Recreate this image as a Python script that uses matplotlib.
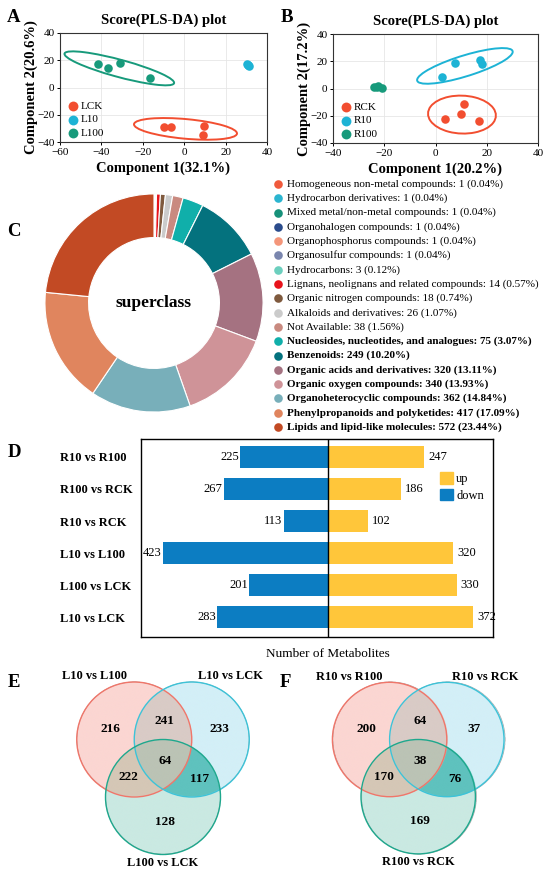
import numpy as np
import matplotlib
matplotlib.use('Agg')
import matplotlib.pyplot as plt
from matplotlib.patches import Ellipse, Circle, Patch

plt.rcParams['font.family'] = ['Liberation Serif', 'DejaVu Serif']

# ---- data ----
# A: PLS-DA scores, leaf
lck_x = [-9.7, -6.5, 9.8, 8.9]
lck_y = [-29.1, -29.1, -28.1, -35.2]
l10_x = [30.4, 31.2, 30.8, 31.0]
l10_y = [17.4, 15.8, 16.8, 16.2]
l100_x = [-41.5, -36.6, -30.8, -16.5]
l100_y = [17.4, 14.2, 17.8, 6.8]

# B: PLS-DA scores, root
rck_x = [3.6, 9.9, 11.0, 16.8]
rck_y = [-22.4, -19.0, -11.2, -24.0]
r10_x = [2.7, 7.5, 17.5, 18.2]
r10_y = [8.8, 18.5, 21.0, 18.0]
r100_x = [-24.0, -22.4, -20.8, -23.0]
r100_y = [0.8, 1.5, 0.3, 1.0]

# C: superclass counts
superclass = ['Homogeneous non-metal compounds', 'Hydrocarbon derivatives',
              'Mixed metal/non-metal compounds', 'Organohalogen compounds',
              'Organophosphorus compounds', 'Organosulfur compounds', 'Hydrocarbons',
              'Lignans, neolignans and related compounds', 'Organic nitrogen compounds',
              'Alkaloids and derivatives', 'Not Available',
              'Nucleosides, nucleotides, and analogues', 'Benzenoids',
              'Organic acids and derivatives', 'Organic oxygen compounds',
              'Organoheterocyclic compounds', 'Phenylpropanoids and polyketides',
              'Lipids and lipid-like molecules']
counts = [1, 1, 1, 1, 1, 1, 3, 14, 18, 26, 38, 75, 249, 320, 340, 362, 417, 572]
pcts = [0.04, 0.04, 0.04, 0.04, 0.04, 0.04, 0.12, 0.57, 0.74, 1.07, 1.56, 3.07,
        10.20, 13.11, 13.93, 14.84, 17.09, 23.44]
pie_colors = ['#F05A3C', '#2BB5D0', '#17917A', '#2B4C8C', '#F4967A', '#7A86AE',
              '#6CCFBE', '#E8141C', '#7F5A3E', '#CBCBCB', '#C98A80', '#10AFAA',
              '#04727E', '#A57281', '#CF9398', '#78AFBA', '#E0855E', '#C24A24']

# D: differential metabolites
comparisons = ['R10 vs R100', 'R100 vs RCK', 'R10 vs RCK',
               'L10 vs L100', 'L100 vs LCK', 'L10 vs LCK']
down = [225, 267, 113, 423, 201, 283]
up = [247, 186, 102, 320, 330, 372]

# E, F: venn region counts (A only, AB, B only, ABC, AC, BC, C only)
venn_e_sets = ['L10 vs L100', 'L10 vs LCK', 'L100 vs LCK']
venn_e_vals = [216, 241, 233, 64, 222, 117, 128]
venn_f_sets = ['R10 vs R100', 'R10 vs RCK', 'R100 vs RCK']
venn_f_vals = [200, 64, 37, 38, 170, 76, 169]

RED, CYAN, GREEN = '#F24E30', '#1DB3D5', '#179A7B'

W, H = 550, 876
fig = plt.figure(figsize=(W / 100, H / 100), dpi=100)


def px_axes(x0, y0, x1, y1):
    return fig.add_axes([x0 / W, 1 - y1 / H, (x1 - x0) / W, (y1 - y0) / H])


def conf_ellipse(ax, x, y, color, n_std=2.447):
    cov = np.cov(x, y)
    vals, vecs = np.linalg.eigh(cov)
    order = vals.argsort()[::-1]
    vals, vecs = vals[order], vecs[:, order]
    angle = np.degrees(np.arctan2(vecs[1, 0], vecs[0, 0]))
    w, h = 2 * n_std * np.sqrt(vals)
    ax.add_patch(Ellipse((np.mean(x), np.mean(y)), w, h, angle=angle,
                         fill=False, ec=color, lw=1.4, zorder=2))


def score_plot(ax, groups, xlim, xlabel, ylabel):
    for name, x, y, color, ell in groups:
        ax.scatter(x, y, s=38, color=color, label=name, zorder=3, lw=0)
        if ell:
            conf_ellipse(ax, x, y, color)
    ax.set_xlim(xlim)
    ax.set_ylim(-40, 40)
    ax.set_xticks(np.arange(xlim[0], xlim[1] + 1, 20))
    ax.set_yticks([-40, -20, 0, 20, 40])
    ax.grid(color='#E6E6E6', lw=0.6)
    ax.set_axisbelow(True)
    ax.tick_params(labelsize=8, length=2.5, width=0.7, pad=1.5)
    for s in ax.spines.values():
        s.set_linewidth(0.8)
        s.set_color('#333333')
    ax.set_title('Score(PLS-DA) plot', fontsize=10.5, fontweight='bold', pad=6.5)
    ax.set_xlabel(xlabel, fontsize=10.5, fontweight='bold')
    ax.set_ylabel(ylabel, fontsize=10.5, fontweight='bold')
    ax.xaxis.set_label_coords(0.5, -0.175)
    ax.yaxis.set_label_coords(-0.105, 0.5)
    ax.legend(loc='lower left', frameon=False, fontsize=8, handletextpad=0.0,
              labelspacing=0.3, borderaxespad=0.2, borderpad=0.2,
              markerscale=1.15, handlelength=1.5)


# ---- A ----
axA = px_axes(60, 33, 267, 142)
score_plot(axA, [('LCK', lck_x, lck_y, RED, True),
                 ('L10', l10_x, l10_y, CYAN, False),
                 ('L100', l100_x, l100_y, GREEN, True)],
           (-60, 40), 'Component 1(32.1%)', 'Component 2(20.6%)')

# ---- B ----
axB = px_axes(333, 34, 538, 143)
score_plot(axB, [('RCK', rck_x, rck_y, RED, True),
                 ('R10', r10_x, r10_y, CYAN, True),
                 ('R100', r100_x, r100_y, GREEN, False)],
           (-40, 40), 'Component 1(20.2%)', 'Component 2(17.2%)')

# ---- C donut ----
axC = px_axes(154 - 114.5, 303 - 114.5, 154 + 114.5, 303 + 114.5)
axC.pie(counts, colors=pie_colors, startangle=90, counterclock=False,
        wedgeprops=dict(width=0.4, edgecolor='white', linewidth=0.8))
axC.set_xlim(-1.05, 1.05)
axC.set_ylim(-1.05, 1.05)
axC.text(0, 0, 'superclass', ha='center', va='center', fontsize=12.5,
         fontweight='bold')

axL = px_axes(262, 175, 550, 437)
axL.set_xlim(262, 550)
axL.set_ylim(437, 175)
axL.axis('off')
for i, (name, n, p, c) in enumerate(zip(superclass, counts, pcts, pie_colors)):
    yy = 184 + i * 14.3
    axL.plot(278, yy, 'o', ms=6.2, color=c, mec='none')
    axL.text(287, yy, f'{name}: {n} ({p:.2f}%)', va='center', ha='left',
             fontsize=8, fontweight='bold' if i >= 11 else 'normal')

# ---- D bars ----
axD = px_axes(141, 439, 493, 637)
ypos = np.arange(len(comparisons))
axD.barh(ypos, [-v for v in down], height=0.68, color='#0C7DC2', label='down')
axD.barh(ypos, up, height=0.68, color='#FFC63A', label='up')
for yv, d, u in zip(ypos, down, up):
    axD.annotate(str(d), (-d, yv), xytext=(-1, 0), textcoords='offset points',
                 ha='right', va='center', fontsize=9)
    axD.annotate(str(u), (u, yv), xytext=(3, 0), textcoords='offset points',
                 ha='left', va='center', fontsize=9)
axD.axvline(0, color='black', lw=1)
axD.set_xlim(-479, 423)
axD.set_ylim(5.62, -0.56)
axD.set_xticks([])
axD.set_yticks(ypos)
axD.set_yticklabels(comparisons, fontsize=9, fontweight='bold', ha='left')
axD.tick_params(axis='y', length=0, pad=58)
for s in axD.spines.values():
    s.set_linewidth(1)
axD.set_xlabel('Number of Metabolites', fontsize=9.5)
axD.xaxis.set_label_coords(479 / 902, -0.055)
axD.legend(handles=[Patch(color='#FFC63A', label='up'),
                    Patch(color='#0C7DC2', label='down')],
           loc='upper left', bbox_to_anchor=(440 / W, 1 - 472 / H),
           bbox_transform=fig.transFigure, frameon=False, fontsize=9,
           handlelength=1.0, handleheight=1.05, handletextpad=0.3,
           labelspacing=0.3, borderpad=0, borderaxespad=0)

# ---- E, F venn ----
region_colors = {(1, 0, 0): '#FBD6D2', (0, 1, 0): '#D3EFF7', (0, 0, 1): '#CAE9E2',
                 (1, 1, 0): '#D9CBC6', (1, 0, 1): '#D5C7B6', (0, 1, 1): '#5FC2BE',
                 (1, 1, 1): '#BBC3B5'}
edge_colors = ['#F0766A', '#3DC3D8', '#1EA88D']
centers = [(-0.5, 0.0), (0.5, 0.0), (0.0, -1.0)]
val_pos = [(-0.91, 0.18), (0.03, 0.33), (0.98, 0.18), (0.03, -0.38),
           (-0.60, -0.66), (0.64, -0.69), (0.03, -1.43)]
lab_pos = [(-1.20, 1.10), (1.17, 1.10), (0.0, -2.14)]


def venn(box, origin, unit, sets, vals):
    x0, y0, x1, y1 = box
    ax = px_axes(x0, y0, x1, y1)
    xl = ((x0 - origin[0]) / unit, (x1 - origin[0]) / unit)
    yl = ((origin[1] - y1) / unit, (origin[1] - y0) / unit)
    gx, gy = np.meshgrid(np.linspace(-1.6, 1.6, 700), np.linspace(-2.1, 1.1, 700))
    inside = [((gx - cx) ** 2 + (gy - cy) ** 2) <= 1 for cx, cy in centers]
    img = np.zeros(gx.shape + (4,))
    for key, col in region_colors.items():
        m = np.ones(gx.shape, bool)
        for k, ins in zip(key, inside):
            m &= ins if k else ~ins
        img[m] = matplotlib.colors.to_rgba(col)
    ax.imshow(img, extent=(-1.6, 1.6, -2.1, 1.1), origin='lower',
              interpolation='bilinear', zorder=1)
    for (cx, cy), ec in zip(centers, edge_colors):
        ax.add_patch(Circle((cx, cy), 1, fill=False, ec=ec, lw=1.0, zorder=2))
    for v, (px, py) in zip(vals, val_pos):
        ax.text(px, py, str(v), ha='center', va='center', fontsize=9.5,
                fontweight='bold', zorder=3)
    for s, (px, py) in zip(sets, lab_pos):
        ax.text(px, py, s, ha='center', va='center', fontsize=9,
                fontweight='bold', zorder=3)
    ax.set_xlim(xl)
    ax.set_ylim(yl)
    ax.axis('off')


venn((20, 660, 272, 876), (163, 739.5), 57.5, venn_e_sets, venn_e_vals)
venn((285, 660, 550, 876), (418.2, 739.5), 57.2, venn_f_sets, venn_f_vals)

# panel letters
for letter, (lx, ly) in zip('ABCDEF', [(14, 22), (287, 22), (14, 236),
                                       (14, 457), (14, 687), (285, 687)]):
    fig.text(lx / W, 1 - ly / H, letter, ha='center', va='baseline',
             fontsize=13.5, fontweight='bold')

fig.savefig('out.png', dpi=100)
